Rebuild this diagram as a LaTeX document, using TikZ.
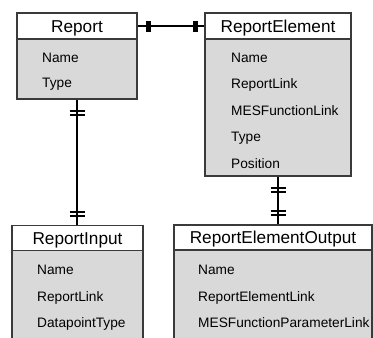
\documentclass[tikz,border=0pt]{standalone}
\usepackage{fontspec}
\setmainfont{Liberation Sans}
\usetikzlibrary{decorations.markings}

\definecolor{boxline}{HTML}{3A3A3A}
\definecolor{bodyfill}{HTML}{D9D9D9}

\tikzset{
  % entity title row
  headbox/.style={draw=boxline, line width=1.2pt, fill=white, inner sep=0pt,
    text height=12.4pt, text depth=0pt,
    font=\fontsize{17.2}{20}\selectfont},
  % entity attribute area
  bodybox/.style={draw=boxline, line width=1.2pt, fill=bodyfill, inner sep=0pt},
  % attribute labels, anchored at the middle of their cap height
  attr/.style={anchor=west, inner sep=0pt, text height=9.8pt, text depth=0pt,
    font=\fontsize{13.7}{16}\selectfont},
  % relationship line
  link/.style={line width=2pt, black},
  % one-to-one: a heavy single bar near each end
  singleends/.style={decoration={markings,
      mark=at position 11pt with {\draw[line width=5pt] (0,-5.5pt) -- (0,5.5pt);},
      mark=at position -9pt with {\draw[line width=5pt] (0,-5.5pt) -- (0,5.5pt);}},
    postaction={decorate}},
  % exactly-one on both ends: a double bar near each end
  doubleends/.style={decoration={markings,
      mark=at position 11pt with {\draw[line width=2pt] (0,-7.5pt) -- (0,7.5pt);},
      mark=at position 15pt with {\draw[line width=2pt] (0,-7.5pt) -- (0,7.5pt);},
      mark=at position -9pt with {\draw[line width=2pt] (0,-7.5pt) -- (0,7.5pt);},
      mark=at position -13pt with {\draw[line width=2pt] (0,-7.5pt) -- (0,7.5pt);}},
    postaction={decorate}},
}

\begin{document}
\begin{tikzpicture}[x=1pt, y=-1pt]
\useasboundingbox (0,0) rectangle (373,338);
\clip (0,0) rectangle (373,338);

% Report
\node[bodybox, minimum width=120pt, minimum height=60pt] (reportBody) at (77,69) {};
\node[headbox, minimum width=120pt, minimum height=26pt] (report) at (77,26) {Report};
\node[attr] (reportName) at (42,58) {Name};
\node[attr] (reportType) at (42,83) {Type};

% ReportElement
\node[bodybox, minimum width=146pt, minimum height=137pt] (elementBody) at (278,107.5) {};
\node[headbox, minimum width=146pt, minimum height=26pt] (element) at (278,26) {ReportElement};
\node[attr] (elName) at (231,58) {Name};
\node[attr] (elReport) at (231,84) {ReportLink};
\node[attr] (elFunc) at (231,110.5) {MESFunctionLink};
\node[attr] (elType) at (231,137) {Type};
\node[attr] (elPos) at (231,163.5) {Position};

% ReportInput
\node[bodybox, minimum width=131pt, minimum height=110pt] (inputBody) at (77.5,305) {};
\node[headbox, minimum width=131pt, minimum height=24.5pt] (input) at (77.5,238) {ReportInput};
\node[attr] (inName) at (37,270) {Name};
\node[attr] (inReport) at (37,296.5) {ReportLink};
\node[attr] (inType) at (37,323) {DatapointType};

% ReportElementOutput
\node[bodybox, minimum width=198pt, minimum height=110pt] (outputBody) at (273,305) {};
\node[headbox, minimum width=198pt, minimum height=25pt] (output) at (273,237.5) {ReportElementOutput};
\node[attr] (outName) at (198,269.5) {Name};
\node[attr] (outElement) at (198,296.5) {ReportElementLink};
\node[attr] (outParam) at (198,323) {MESFunctionParameterLink};

% relationships
\draw[link, singleends] (report.east) -- (element.west);
\draw[link, doubleends] (reportBody.south) -- (reportBody.south |- input.north);
\draw[link, doubleends] (elementBody.south) -- (elementBody.south |- output.north);
\end{tikzpicture}
\end{document}
